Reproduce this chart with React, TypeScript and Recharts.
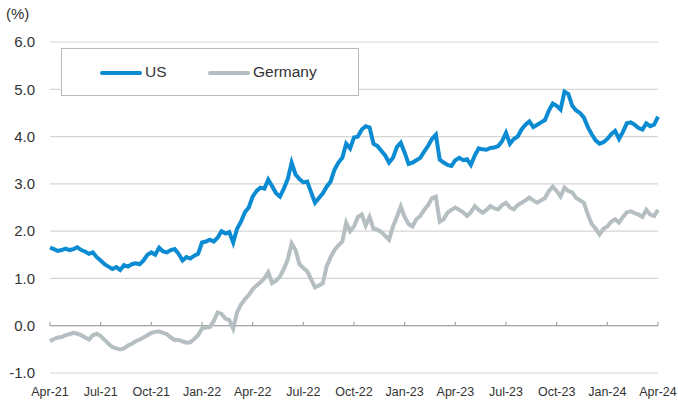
import React from 'react';
import { LineChart, Line, XAxis, YAxis, CartesianGrid, ReferenceLine } from 'recharts';

// weekly 10y yields, Apr-21 .. Apr-24
const usYield = [
  1.65, 1.62, 1.58, 1.6, 1.63, 1.6, 1.62, 1.66, 1.6, 1.57, 1.52, 1.55, 1.45,
  1.38, 1.3, 1.25, 1.2, 1.24, 1.18, 1.28, 1.25, 1.3, 1.32, 1.3, 1.38, 1.5,
  1.55, 1.5, 1.65, 1.57, 1.55, 1.6, 1.62, 1.52, 1.38, 1.45, 1.42, 1.48, 1.52,
  1.76, 1.78, 1.82, 1.78, 1.86, 2.0, 1.95, 1.98, 1.76, 2.05, 2.2, 2.4, 2.5,
  2.73, 2.85, 2.92, 2.9, 3.09, 2.95, 2.8, 2.73, 2.9, 3.1, 3.45, 3.2, 3.1,
  3.03, 3.05, 2.82, 2.6, 2.7, 2.8, 2.94, 3.05, 3.3, 3.45, 3.55, 3.85, 3.75,
  3.98, 4.0, 4.15, 4.22, 4.19, 3.85, 3.8, 3.7, 3.6, 3.45, 3.55, 3.78, 3.87,
  3.66, 3.42, 3.45, 3.5, 3.55, 3.68, 3.8, 3.95, 4.04, 3.51, 3.45, 3.4, 3.38,
  3.5, 3.55, 3.5, 3.52, 3.4, 3.6, 3.75, 3.73, 3.72, 3.76, 3.77, 3.8, 3.9,
  4.08, 3.85, 3.95, 4.0, 4.15, 4.25, 4.32, 4.2, 4.25, 4.3, 4.35, 4.55, 4.7,
  4.65, 4.57, 4.95, 4.9, 4.65, 4.55, 4.5, 4.4, 4.2, 4.05, 3.92, 3.85, 3.88,
  3.95, 4.05, 4.12, 3.95, 4.1, 4.28, 4.3, 4.25, 4.18, 4.15, 4.28, 4.22, 4.25,
  4.42,
];

const deYield = [
  -0.33, -0.28, -0.25, -0.24, -0.2, -0.18, -0.15, -0.17, -0.2, -0.25, -0.29, -0.2, -0.17,
  -0.22, -0.3, -0.38, -0.45, -0.48, -0.5, -0.48, -0.42, -0.38, -0.33, -0.29, -0.25, -0.2,
  -0.15, -0.13, -0.12, -0.15, -0.18, -0.25, -0.3, -0.3, -0.33, -0.36, -0.35, -0.28, -0.2,
  -0.06, -0.04, -0.03, 0.1, 0.28, 0.25, 0.15, 0.12, -0.06, 0.28, 0.45, 0.56, 0.65,
  0.77, 0.85, 0.92, 1.0, 1.13, 0.9, 0.95, 1.04, 1.2, 1.4, 1.74, 1.6, 1.3,
  1.22, 1.15, 0.98, 0.81, 0.85, 0.9, 1.26, 1.45, 1.6, 1.7, 1.78, 2.18, 2.0,
  2.1, 2.3, 2.35, 2.12, 2.3, 2.05, 2.03, 1.98, 1.9, 1.82, 2.1, 2.3, 2.52,
  2.3, 2.15, 2.1, 2.25, 2.32, 2.45, 2.55, 2.7, 2.73, 2.2, 2.25, 2.39, 2.45,
  2.5, 2.45, 2.4, 2.32, 2.4, 2.53, 2.45, 2.39, 2.45, 2.53, 2.48, 2.46, 2.55,
  2.6, 2.5, 2.46, 2.55, 2.6, 2.65, 2.71, 2.65, 2.6, 2.65, 2.7, 2.85, 2.94,
  2.85, 2.73, 2.92, 2.85, 2.82, 2.7, 2.65, 2.6, 2.35, 2.15, 2.05, 1.93, 2.05,
  2.1, 2.2, 2.25, 2.18, 2.3, 2.4, 2.42, 2.38, 2.35, 2.3, 2.45, 2.35, 2.32,
  2.45,
];

const quarterLabels = [
  'Apr-21', 'Jul-21', 'Oct-21', 'Jan-22', 'Apr-22', 'Jul-22', 'Oct-22',
  'Jan-23', 'Apr-23', 'Jul-23', 'Oct-23', 'Jan-24', 'Apr-24',
];

const yTicks = [-1, 0, 1, 2, 3, 4, 5, 6];

const WEEKS_PER_Q = 13;
const quarterTicks = quarterLabels.map((_, i) => i * WEEKS_PER_Q);

const data = usYield.map((v, i) => ({ w: i, us: v, de: deYield[i] }));

const US_COLOR = '#0a8bd2';
const DE_COLOR = '#b5bec1';
const FONT = '"Liberation Sans", Arial, sans-serif';

// legend drawn as an overlay box so it doesn't push the plot area down
const LegendBox = () => (
  <div
    style={{
      position: 'absolute',
      left: 61,
      top: 48,
      width: 296,
      height: 46,
      border: '1px solid #b4bcc0',
      background: '#fff',
      fontFamily: FONT,
      fontSize: 15.5,
      color: '#333',
      zIndex: 2,
    }}
  >
    <div style={{ position: 'absolute', left: 38, top: 22, width: 42, height: 4, background: US_COLOR, borderRadius: 2 }} />
    <span style={{ position: 'absolute', left: 83, top: 14 }}>US</span>
    <div style={{ position: 'absolute', left: 146, top: 22, width: 42, height: 4, background: DE_COLOR, borderRadius: 2 }} />
    <span style={{ position: 'absolute', left: 191, top: 14 }}>Germany</span>
  </div>
);

export default function App() {
  return (
    <div style={{ position: 'absolute', left: 0, top: 0, width: 678, height: 408, background: '#fff' }}>
      <div style={{ position: 'absolute', left: 6, top: 5, fontFamily: FONT, fontSize: 15, color: '#333' }}>(%)</div>
      <LineChart width={678} height={408} data={data} margin={{ top: 42, right: 20, bottom: 0, left: 0 }}>
        <CartesianGrid vertical={false} stroke="#d6d6d6" strokeWidth={1.2} />
        <XAxis
          dataKey="w"
          type="number"
          domain={[0, 156]}
          ticks={quarterTicks}
          tickFormatter={(v: number) => quarterLabels[Math.round(v / WEEKS_PER_Q)]}
          axisLine={false}
          tickLine={false}
          height={35}
          tickMargin={8}
          interval={0}
          tick={{ fontSize: 12.5, fill: '#333', fontFamily: FONT }}
        />
        <YAxis
          domain={[-1, 6]}
          ticks={yTicks}
          tickFormatter={(v: number) => v.toFixed(1)}
          axisLine={false}
          tickLine={false}
          width={50}
          tickMargin={9}
          tick={{ fontSize: 15, fill: '#333', fontFamily: FONT }}
        />
        <ReferenceLine y={0} stroke="#a6a6a6" strokeWidth={1.2} />
        {quarterTicks.map((t) => (
          <ReferenceLine
            key={t}
            segment={[{ x: t, y: 0 }, { x: t, y: 0.085 }]}
            stroke="#a6a6a6"
            strokeWidth={1.2}
          />
        ))}
        <Line
          type="linear"
          dataKey="us"
          stroke={US_COLOR}
          strokeWidth={4}
          dot={false}
          isAnimationActive={false}
        />
        <Line
          type="linear"
          dataKey="de"
          stroke={DE_COLOR}
          strokeWidth={4}
          dot={false}
          isAnimationActive={false}
        />
      </LineChart>
      <LegendBox />
    </div>
  );
}
